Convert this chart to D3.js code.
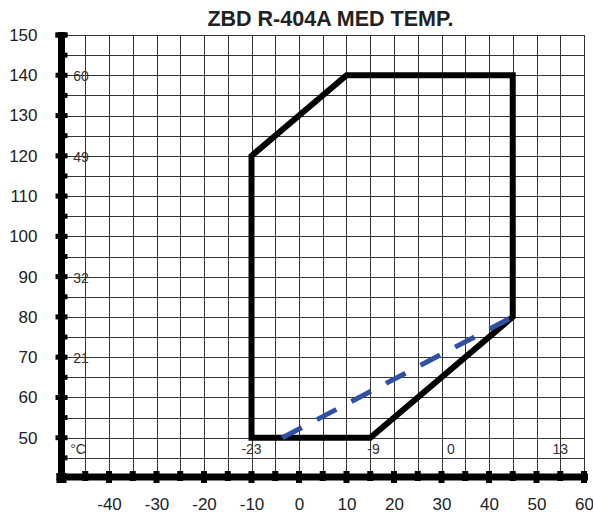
<!DOCTYPE html>
<html>
<head>
<meta charset="utf-8">
<script src="https://cdn.jsdelivr.net/npm/d3@7"></script>
<style>
  html, body { margin: 0; padding: 0; background: #fff; }
  svg { display: block; font-family: "Liberation Sans", Arial, sans-serif; }
</style>
</head>
<body>
<svg id="chart" width="593" height="514"></svg>
<script>
// ---- data ----
const title = "ZBD R-404A MED TEMP.";
const xTickValues = [-40, -30, -20, -10, 0, 10, 20, 30, 40, 50, 60];
const yTickValues = [50, 60, 70, 80, 90, 100, 110, 120, 130, 140, 150];
// operating envelope (evaporating °F, condensing °F)
const envelopeX = [-10, -10, 10, 45, 45, 15];
const envelopeY = [50, 120, 140, 140, 80, 50];
// dashed limit line
const dashX = [-3.5, 45];
const dashY = [50, 80];
// °C equivalents shown inside the grid
const leftCLabels = ["60", "49", "32", "21"];
const leftCValues = [140, 120, 90, 70];
const bottomCLabels = ["°C", "-23", "-9", "0", "13"];
const bottomCValues = [-46.5, -10, 15.7, 32, 55];

// ---- scales ----
const svg = d3.select("#chart");
const x = d3.scaleLinear().domain([-50, 60]).range([61.5, 584]);
const y = d3.scaleLinear().domain([40, 150]).range([478, 35]);

// grid
const gridX = d3.range(-45, 61, 5);
const gridY = d3.range(45, 151, 5);
const grid = svg.append("g").attr("stroke", "#333").attr("stroke-width", 1).attr("shape-rendering", "crispEdges");
grid.selectAll("line.v").data(gridX).join("line")
  .attr("x1", d => Math.round(x(d)) + 0.5).attr("x2", d => Math.round(x(d)) + 0.5)
  .attr("y1", y(150)).attr("y2", y(40));
grid.selectAll("line.h").data(gridY).join("line")
  .attr("y1", d => Math.round(y(d)) + 0.5).attr("y2", d => Math.round(y(d)) + 0.5)
  .attr("x1", x(-50)).attr("x2", x(60));

// inner °C labels
const lab = svg.append("g").attr("fill", "#333").attr("font-size", 14).attr("text-anchor", "middle");
lab.selectAll("text.l").data(leftCLabels).join("text")
  .attr("x", x(-45.9)).attr("y", (d, i) => y(leftCValues[i]) + 6).text(d => d);
lab.selectAll("text.b").data(bottomCLabels).join("text")
  .attr("x", (d, i) => x(bottomCValues[i])).attr("y", y(46)).text(d => d);

// envelope
const pts = envelopeX.map((d, i) => [x(d), y(envelopeY[i])]);
svg.append("path")
  .attr("d", d3.line()(pts) + "Z")
  .attr("fill", "none").attr("stroke", "#000").attr("stroke-width", 6)
  .attr("stroke-linejoin", "miter");

// dashed line
svg.append("path")
  .attr("d", d3.line()(dashX.map((d, i) => [x(d), y(dashY[i])])))
  .attr("fill", "none").attr("stroke", "#2f50a3").attr("stroke-width", 5)
  .attr("stroke-dasharray", "22,17");

// axes lines
const axisG = svg.append("g").attr("fill", "#000");
const ax0 = y(40) - 1;   // x-axis line position
const ay0 = x(-50);      // y-axis line position
axisG.append("rect").attr("x", ay0 - 3.5).attr("y", y(150) - 3).attr("width", 7).attr("height", ax0 - y(150) + 9);
axisG.append("rect").attr("x", ay0 - 5).attr("y", ax0 - 3.5).attr("width", x(60) - ay0 + 9).attr("height", 7);
// y-axis tick marks
axisG.selectAll("rect.yt").data(gridY.concat([150])).join("rect")
  .attr("x", d => d % 10 === 0 ? ay0 - 6 : ay0)
  .attr("y", d => y(d) - 2.5)
  .attr("width", d => d % 10 === 0 ? 12 : 6)
  .attr("height", 5);
// x-axis tick marks
axisG.selectAll("rect.xt").data(gridX).join("rect")
  .attr("x", d => x(d) - 3)
  .attr("y", ax0 - 6)
  .attr("width", 6)
  .attr("height", d => d % 10 === 0 ? 12 : 10);
axisG.append("rect").attr("x", ay0 - 5).attr("y", ax0 - 4).attr("width", 10).attr("height", 10);

// tick labels via d3 axes
const fmt = d => String(d);
const xAxis = svg.append("g").attr("transform", `translate(0,${ax0})`)
  .call(d3.axisBottom(x).tickValues(xTickValues).tickFormat(fmt).tickSize(0).tickPadding(21));
const yAxis = svg.append("g").attr("transform", `translate(${ay0},0)`)
  .call(d3.axisLeft(y).tickValues(yTickValues).tickFormat(fmt).tickSize(0).tickPadding(24));
[xAxis, yAxis].forEach(g => {
  g.select(".domain").remove();
  g.selectAll("text").attr("font-size", 17).attr("fill", "#222")
    .attr("font-family", "'Liberation Sans', Arial, sans-serif");
});

// title
svg.append("text").attr("x", 330.5).attr("y", 26).attr("text-anchor", "middle")
  .attr("font-size", 21.5).attr("font-weight", "bold").attr("fill", "#222").text(title);
</script>
</body>
</html>
